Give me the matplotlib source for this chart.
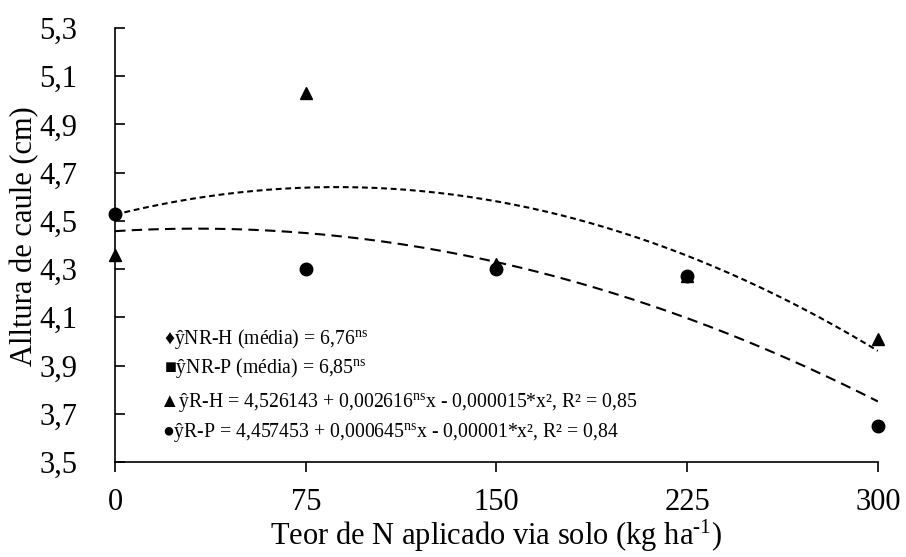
import numpy as np
from matplotlib import pyplot as plt

plt.rcParams['font.family'] = ['Liberation Serif', 'DejaVu Serif']
plt.rcParams['mathtext.fontset'] = 'custom'
plt.rcParams['mathtext.rm'] = 'Liberation Serif'
plt.rcParams['mathtext.it'] = 'Liberation Serif:italic'

doses = [0, 75, 150, 225, 300]
rh = [4.36, 5.03, 4.32, 4.27, 4.01]   # triangles
rp = [4.53, 4.30, 4.30, 4.27, 3.65]   # circles
coef_rh = [4.526143, 0.002616, -0.000015]
coef_rp = [4.457453, 0.000645, -0.00001]
yticks = [3.5, 3.7, 3.9, 4.1, 4.3, 4.5, 4.7, 4.9, 5.1, 5.3]
legend_lines = [
    '\u2666\u0177NR-H (média) = 6,76$^{\\mathrm{ns}}$',
    '\u25a0\u0177NR-P (média) = 6,85$^{\\mathrm{ns}}$',
    '\u25b2\u0177R-H = 4,526143 + 0,002616$^{\\mathrm{ns}}$x - 0,000015*x\u00b2, R\u00b2 = 0,85',
    '\u25cf\u0177R-P = 4,457453 + 0,000645$^{\\mathrm{ns}}$x - 0,00001*x\u00b2, R\u00b2 = 0,84',
]
legend_x = [0.064, 0.064, 0.058, 0.062]
legend_y = [0.283, 0.217, 0.138, 0.069]

fig = plt.figure(figsize=(9.06, 5.57), dpi=100)
ax = fig.add_axes([0.127, 0.1706, 0.842, 0.7791])

x = np.linspace(0, 300, 200)
ax.plot(x, coef_rh[0] + coef_rh[1] * x + coef_rh[2] * x**2,
        color='black', lw=1.5, dashes=(2.8, 1.8))
ax.plot(x, coef_rp[0] + coef_rp[1] * x + coef_rp[2] * x**2,
        color='black', lw=1.5, dashes=(5, 3))
ax.plot(doses, rh, '^', color='black', ms=9, clip_on=False, zorder=5)
ax.plot(doses, rp, 'o', color='black', ms=9, clip_on=False, zorder=5)

ax.set_xlim(0, 300)
ax.set_ylim(3.5, 5.3)
ax.set_xticks(doses)
ax.set_xticklabels([str(d) for d in doses])
ax.set_yticks(yticks)
ax.set_yticklabels([f'{v:.1f}'.replace('.', ',') for v in yticks])

for s in ['top', 'right']:
    ax.spines[s].set_visible(False)
for s in ['left', 'bottom']:
    ax.spines[s].set_linewidth(1.2)

ax.tick_params(axis='y', direction='in', length=7, width=1.2, pad=27, labelsize=22)
ax.tick_params(axis='x', direction='out', length=7, width=1.2, pad=11.5, labelsize=22)

ax.set_ylabel('Alltura de caule (cm)', fontsize=22)
ax.yaxis.set_label_coords(-0.099, 0.52)
ax.set_xlabel('Teor de N aplicado via solo (kg ha$^{\\mathrm{\u20101}}$)', fontsize=22, va='baseline')
ax.xaxis.set_label_coords(0.5, -0.192)

for txt, xx, yy in zip(legend_lines, legend_x, legend_y):
    ax.text(xx, yy, txt, transform=ax.transAxes, fontsize=14.2, va='center', ha='left')

fig.savefig('out.png', dpi=100)
